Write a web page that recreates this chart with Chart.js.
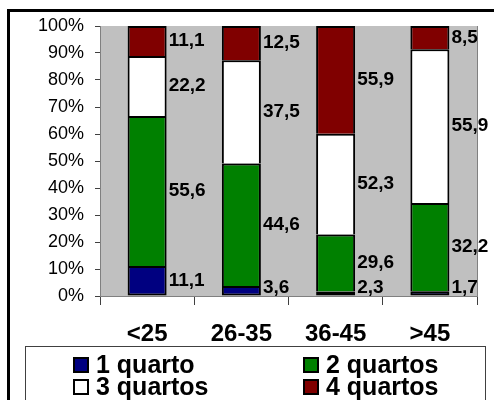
<!DOCTYPE html>
<html lang="pt">
<head>
    <meta charset="UTF-8">
    <title>Quartos por faixa etária</title>
    <script src="https://cdn.jsdelivr.net/npm/chart.js"></script>
    <style>
        body {
            margin: 0;
            background-color: white;
        }
        canvas {
            display: block;
        }
    </style>
</head>
<body>
    <canvas id="quartosChart" width="494" height="400"></canvas>

    <script>
        // Age groups and number of rooms (values as printed on the bars)
        const faixas = ['<25', '26-35', '36-45', '>45'];
        const umQuarto = [11.1, 3.6, 2.3, 1.7];
        const doisQuartos = [55.6, 44.6, 29.6, 32.2];
        const tresQuartos = [22.2, 37.5, 52.3, 55.9];
        const quatroQuartos = [11.1, 12.5, 55.9, 8.5];
        const seriesNomes = ['1 quarto', '2 quartos', '3 quartos', '4 quartos'];
        const seriesCores = ['#000080', '#008000', '#ffffff', '#800000'];
        const yTicks = [0, 10, 20, 30, 40, 50, 60, 70, 80, 90, 100];

        const series = [umQuarto, doisQuartos, tresQuartos, quatroQuartos];

        // 100% stacked: each column is scaled to its own total
        const totais = faixas.map((_, i) => series.reduce((s, arr) => s + arr[i], 0));
        const percent = arr => arr.map((v, i) => v / totais[i] * 100);

        const fmt = v => v.toFixed(1).replace('.', ',');

        Chart.defaults.font.family = 'Arial, "Liberation Sans", sans-serif';
        Chart.defaults.color = '#000';

        // gray plot area + thin right edge
        const plotBackground = {
            id: 'plotBackground',
            beforeDraw(chart) {
                const { ctx, chartArea: a } = chart;
                ctx.save();
                ctx.fillStyle = '#c0c0c0';
                ctx.fillRect(a.left, a.top, a.right - a.left, a.bottom - a.top);
                ctx.strokeStyle = '#808080';
                ctx.lineWidth = 1;
                ctx.beginPath();
                ctx.moveTo(a.right + 0.5, a.top);
                ctx.lineTo(a.right + 0.5, a.bottom);
                ctx.stroke();
                ctx.restore();
            }
        };

        // value written to the right of each segment
        const segmentLabels = {
            id: 'segmentLabels',
            afterDatasetsDraw(chart) {
                const { ctx, chartArea: a } = chart;
                ctx.save();
                ctx.font = 'bold 19px Arial, "Liberation Sans", sans-serif';
                ctx.fillStyle = '#000';
                ctx.textAlign = 'left';
                ctx.textBaseline = 'middle';
                chart.data.datasets.forEach((ds, di) => {
                    chart.getDatasetMeta(di).data.forEach((bar, i) => {
                        const x = bar.x + bar.width / 2 + 2;
                        const y = Math.min((bar.y + bar.base) / 2, a.bottom - 8);
                        ctx.fillText(fmt(ds.raw[i]), x, y);
                    });
                });
                ctx.restore();
            }
        };

        // legend box in two columns + outer frame
        const boxLegend = {
            id: 'boxLegend',
            afterDraw(chart) {
                const { ctx } = chart;
                ctx.save();
                ctx.strokeStyle = '#404040';
                ctx.lineWidth = 1;
                ctx.strokeRect(25.5, 346.5, 460, 80);

                const cols = [73, 303];
                const rows = [365, 387];
                ctx.font = 'bold 25px Arial, "Liberation Sans", sans-serif';
                ctx.textBaseline = 'middle';
                ctx.textAlign = 'left';
                seriesNomes.forEach((nome, k) => {
                    const x = cols[k % 2];
                    const y = rows[Math.floor(k / 2)];
                    ctx.fillStyle = seriesCores[k];
                    ctx.fillRect(x, y - 8, 16, 16);
                    ctx.strokeStyle = '#000';
                    ctx.lineWidth = 2;
                    ctx.strokeRect(x + 1, y - 7, 14, 14);
                    ctx.fillStyle = '#000';
                    ctx.fillText(nome, x + 23, y + 1);
                });

                ctx.strokeStyle = '#000';
                ctx.lineWidth = 3;
                ctx.strokeRect(8.5, 10.5, 600, 600);
                ctx.restore();
            }
        };

        const datasets = series.map((arr, k) => ({
            label: seriesNomes[k],
            data: percent(arr),
            raw: arr,
            backgroundColor: seriesCores[k],
            borderColor: '#000',
            borderWidth: { top: 2, left: 2, right: 2, bottom: k === 0 ? 2 : 0 },
            borderSkipped: false,
            barPercentage: 0.414,
            categoryPercentage: 1
        }));

        new Chart(document.getElementById('quartosChart'), {
            type: 'bar',
            data: { labels: faixas, datasets: datasets },
            options: {
                responsive: false,
                animation: false,
                layout: { padding: { top: 26, right: 17, left: 0, bottom: 0 } },
                plugins: {
                    legend: { display: false },
                    tooltip: { enabled: false }
                },
                scales: {
                    x: {
                        stacked: true,
                        afterFit(scale) { scale.height = 104; },
                        grid: {
                            offset: true,
                            drawOnChartArea: false,
                            tickLength: 9,
                            color: '#404040'
                        },
                        border: { color: '#808080' },
                        ticks: {
                            padding: 15,
                            font: { size: 24, weight: 'bold' }
                        }
                    },
                    y: {
                        stacked: true,
                        min: 0,
                        max: 100,
                        afterFit(scale) { scale.width = 100; },
                        afterBuildTicks(scale) {
                            scale.ticks = yTicks.map(v => ({ value: v }));
                        },
                        grid: {
                            drawOnChartArea: false,
                            tickLength: 5,
                            color: '#404040'
                        },
                        border: { color: '#808080' },
                        ticks: {
                            padding: 11,
                            font: { size: 18 },
                            callback: v => v + '%'
                        }
                    }
                }
            },
            plugins: [plotBackground, segmentLabels, boxLegend]
        });
    </script>
</body>
</html>
